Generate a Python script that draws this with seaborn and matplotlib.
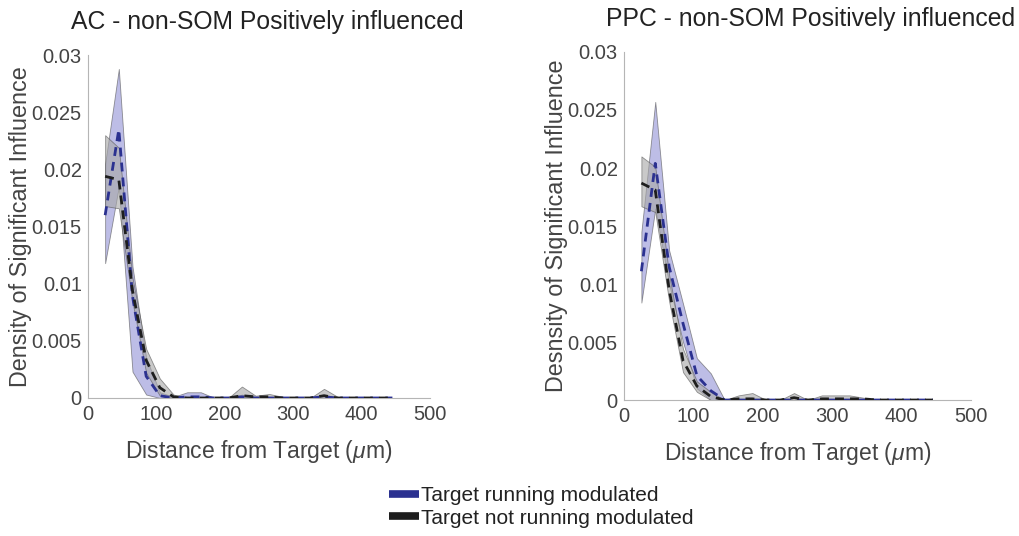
import numpy as np
import pandas as pd
import matplotlib
matplotlib.use("Agg")
import matplotlib.pyplot as plt
from matplotlib.lines import Line2D
import seaborn as sns

# ---------------- data ----------------
distance = [25, 45, 65, 85, 105, 125, 145, 165, 185, 205, 225,
            245, 265, 285, 305, 325, 345, 365, 385, 405, 425, 445]

# AC panel
ac_run_mean = [0.0160, 0.0235, 0.0089, 0.0019, 0.0002, 0.0, 0.0001, 0.0001, 0.0, 0.0, 0.0001,
               0.0, 0.0, 0.0, 0.0, 0.0, 0.0001, 0.0, 0.0, 0.0, 0.0, 0.0]
ac_run_lo = [0.0118, 0.0185, 0.0023, 0.0003, 0.0, 0.0, 0.0, 0.0, 0.0, 0.0, 0.0,
             0.0, 0.0, 0.0, 0.0, 0.0, 0.0, 0.0, 0.0, 0.0, 0.0, 0.0]
ac_run_hi = [0.0205, 0.0288, 0.0115, 0.0035, 0.0005, 0.0001, 0.0005, 0.0005, 0.0, 0.0, 0.0003,
             0.0, 0.0, 0.0, 0.0, 0.0, 0.0003, 0.0, 0.0, 0.0, 0.0, 0.0]

ac_not_mean = [0.0194, 0.0191, 0.0094, 0.0033, 0.0009, 0.0001, 0.0, 0.0, 0.0, 0.0, 0.0002,
               0.0001, 0.0001, 0.0, 0.0, 0.0, 0.0002, 0.0, 0.0, 0.0, 0.0, 0.0]
ac_not_lo = [0.0168, 0.0166, 0.0084, 0.0022, 0.0002, 0.0, 0.0, 0.0, 0.0, 0.0, 0.0,
             0.0, 0.0, 0.0, 0.0, 0.0, 0.0, 0.0, 0.0, 0.0, 0.0, 0.0]
ac_not_hi = [0.0230, 0.0219, 0.0105, 0.0043, 0.0017, 0.0003, 0.0, 0.0, 0.0, 0.0, 0.0010,
             0.0002, 0.00035, 0.0001, 0.0, 0.0, 0.0008, 0.0001, 0.0, 0.0, 0.0, 0.0]

# PPC panel
ppc_run_mean = [0.0111, 0.0204, 0.0115, 0.0066, 0.0021, 0.0008, 0.0, 0.0, 0.0, 0.0, 0.0,
                0.0, 0.0, 0.0, 0.0, 0.0, 0.0, 0.0, 0.0, 0.0, 0.0, 0.0]
ppc_run_lo = [0.0084, 0.0165, 0.0100, 0.0050, 0.0010, 0.0, 0.0, 0.0, 0.0, 0.0, 0.0,
              0.0, 0.0, 0.0, 0.0, 0.0, 0.0, 0.0, 0.0, 0.0, 0.0, 0.0]
ppc_run_hi = [0.0145, 0.0257, 0.0129, 0.0083, 0.0036, 0.0023, 0.0, 0.0, 0.0, 0.0, 0.0,
              0.0, 0.0, 0.0, 0.0, 0.0, 0.0, 0.0, 0.0, 0.0, 0.0, 0.0]

ppc_not_mean = [0.0187, 0.0181, 0.0095, 0.0034, 0.0012, 0.0003, 0.0, 0.0001, 0.0001, 0.0, 0.0,
                0.0002, 0.0, 0.0001, 0.0001, 0.0001, 0.0001, 0.0, 0.0, 0.0, 0.0, 0.0]
ppc_not_lo = [0.0167, 0.0162, 0.0085, 0.0024, 0.0007, 0.0, 0.0, 0.0, 0.0, 0.0, 0.0,
              0.0, 0.0, 0.0, 0.0, 0.0, 0.0, 0.0, 0.0, 0.0, 0.0, 0.0]
ppc_not_hi = [0.0210, 0.0201, 0.0108, 0.0044, 0.0016, 0.0007, 0.0, 0.0004, 0.0006, 0.0, 0.0,
              0.0006, 0.0, 0.0004, 0.0004, 0.0004, 0.0002, 0.0, 0.0, 0.0, 0.0, 0.0]

conditions = ["Target running modulated", "Target not running modulated"]
titles = ["AC - non-SOM Positively influenced", "PPC - non-SOM Positively influenced"]
ylabels = ["Density of Significant Influence", "Desnsity of Significant Influence"]
xlabel = "Distance from Target ($\\mu$m)"
xticks = [0, 100, 200, 300, 400, 500]
yticks = [0, 0.005, 0.01, 0.015, 0.02, 0.025, 0.03]
yticklabels = ["0", "0.005", "0.01", "0.015", "0.02", "0.025", "0.03"]

# ---------------- style ----------------
sns.set_style("white")
plt.rcParams["font.family"] = ["Liberation Sans", "DejaVu Sans"]
plt.rcParams["mathtext.fontset"] = "custom"
plt.rcParams["mathtext.it"] = "Liberation Sans:italic"
plt.rcParams["mathtext.rm"] = "Liberation Sans"

line_colors = {conditions[0]: "#2b3190", conditions[1]: "#1e1e1e"}
fill_colors = {conditions[0]: "#9595d8", conditions[1]: "#a8a8a8"}
text_col = "#444444"
spine_col = "#b5b5b5"

fig = plt.figure(figsize=(10.19, 5.36), dpi=100)
ax1 = fig.add_axes([0.0864, 0.2575, 0.3356, 0.6395])
ax2 = fig.add_axes([0.6124, 0.2537, 0.3405, 0.6493])

panels = [
    (ax1, [(ac_run_mean, ac_run_lo, ac_run_hi), (ac_not_mean, ac_not_lo, ac_not_hi)]),
    (ax2, [(ppc_run_mean, ppc_run_lo, ppc_run_hi), (ppc_not_mean, ppc_not_lo, ppc_not_hi)]),
]
title_x = [0.525, 0.537]

for i, (ax, series) in enumerate(panels):
    frames = []
    for cond, (m, lo, hi) in zip(conditions, series):
        ax.fill_between(distance, lo, hi, facecolor=fill_colors[cond], alpha=0.62,
                        edgecolor="#555555", linewidth=0.6, zorder=1)
        frames.append(pd.DataFrame({"distance": distance, "density": m, "condition": cond}))
    df = pd.concat(frames, ignore_index=True)
    sns.lineplot(data=df, x="distance", y="density", hue="condition",
                 hue_order=conditions, palette=line_colors, ax=ax,
                 linewidth=2.0, legend=False, zorder=3)
    for ln in ax.get_lines():
        ln.set_dashes([3.2, 2.2])

    ax.set_xlim(0, 500)
    ax.set_ylim(0, 0.03)
    ax.set_xticks(xticks)
    ax.set_xticklabels([str(t) for t in xticks])
    ax.set_yticks(yticks)
    ax.set_yticklabels(yticklabels)
    ax.tick_params(direction="in", length=4, width=0.7, colors=spine_col,
                   labelcolor=text_col, labelsize=14.5)
    ax.tick_params(axis="y", pad=4.5)
    ax.tick_params(axis="x", pad=5)
    for s in ["top", "right"]:
        ax.spines[s].set_visible(False)
    for s in ["left", "bottom"]:
        ax.spines[s].set_color(spine_col)
        ax.spines[s].set_linewidth(0.8)
    ax.set_xlabel(xlabel, fontsize=16.5, color=text_col, labelpad=10)
    ax.set_ylabel(ylabels[i], fontsize=16.8, color=text_col, labelpad=0)
    ax.set_title(titles[i], fontsize=17.8, color="#222222", pad=19, x=title_x[i])

handles = [Line2D([0], [0], color=line_colors[c], lw=5.5, solid_capstyle="butt") for c in conditions]
fig.legend(handles, conditions, loc="center", bbox_to_anchor=(0.531, 0.054),
           frameon=False, fontsize=15, handlelength=1.45, handletextpad=0.1,
           labelspacing=0.15, labelcolor="#222222")

fig.savefig("out.png", dpi=100, facecolor="white")
